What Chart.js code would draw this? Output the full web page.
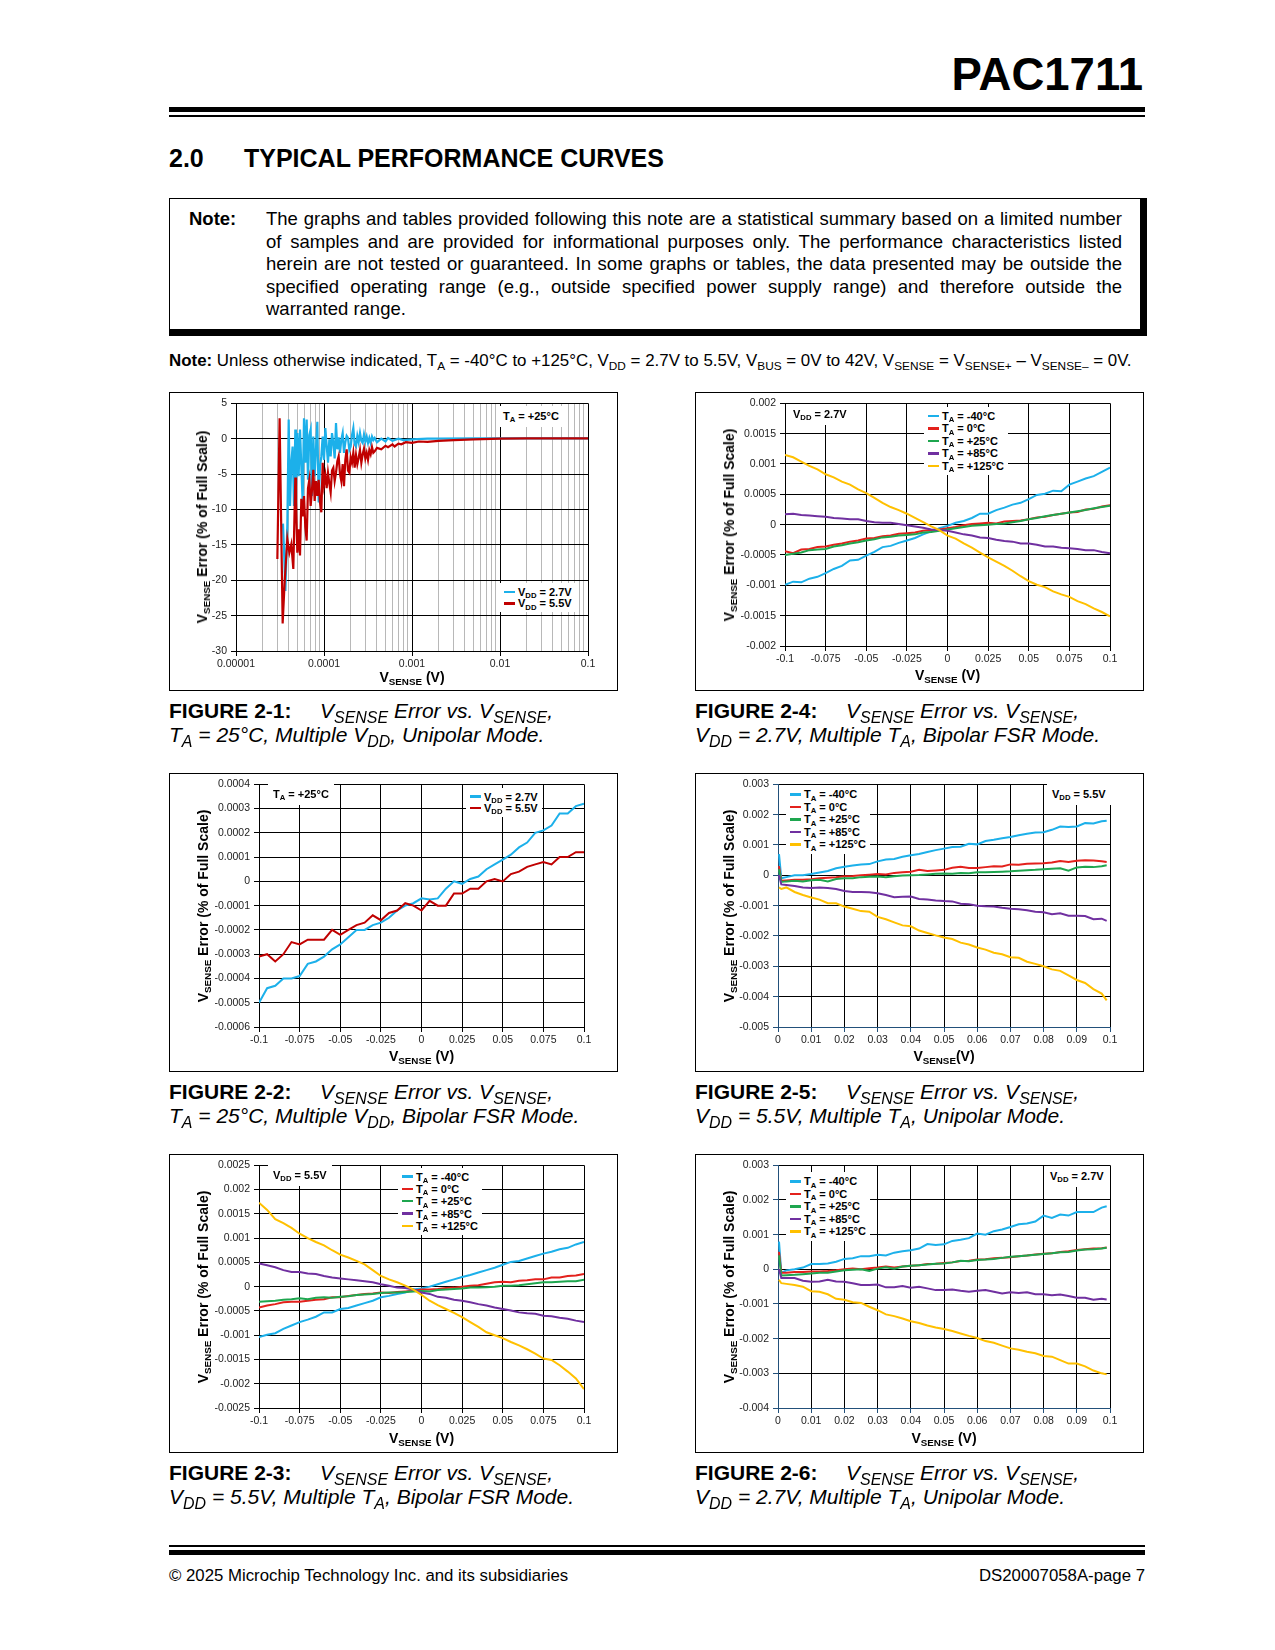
<!DOCTYPE html>
<html>
<head>
<meta charset="utf-8">
<title>PAC1711 - Typical Performance Curves</title>
<script src="https://cdn.jsdelivr.net/npm/chart.js"></script>
<style>
  body { margin: 0; background: #fff; font-family: "Liberation Sans", Arial, Helvetica, sans-serif; color: #000; }
  #page { position: relative; width: 1275px; height: 1650px; overflow: hidden; background: #fff; }
  .abs { position: absolute; white-space: nowrap; }
  sub { font-size: 70%; vertical-align: baseline; position: relative; top: 0.32em; line-height: 0; }
  .rule { position: absolute; background: #000; }
  .box { position: absolute; width: 449px; height: 299px; border: 1px solid #000; box-sizing: border-box; }
  .box canvas { position: absolute; left: 0; top: 0; }
  .cap { position: absolute; font-size: 21px; line-height: 24px; white-space: nowrap; }
  .cap sub { font-size: 76%; }
  .cap .fig { display: inline-block; width: 151px; font-style: normal; font-weight: bold; }
  .xtitle, .ytitle { position: absolute; font-weight: bold; font-size: 14px; line-height: 16px; white-space: nowrap; }
  .xtitle { transform: translate(-50%, -50%); }
  .ytitle { transform: translate(-50%, -50%) rotate(-90deg); }
  .tag { position: absolute; background: #fff; font-weight: bold; font-size: 11px; line-height: 13px; padding: 4px 5px; white-space: nowrap; }
  .legend { position: absolute; background: #fff; font-weight: bold; font-size: 11px; padding: 3px 4px; white-space: nowrap; }
  .lrow { display: flex; align-items: center; }
  .sw { display: inline-block; width: 11px; height: 2.5px; margin-right: 3px; }
</style>
</head>
<body>
<div id="page">
  <div class="abs" style="left:843px; width:300px; top:52px; font-size:45.5px; line-height:45px; font-weight:bold; text-align:right;">PAC1711</div>
  <div class="rule" style="left:169px; top:107px; width:976px; height:5px;"></div>
  <div class="rule" style="left:169px; top:115px; width:976px; height:2px;"></div>

  <div class="abs" style="left:169px; top:146px; font-size:25px; line-height:24px; font-weight:bold;">2.0</div>
  <div class="abs" style="left:244px; top:146px; font-size:25px; line-height:24px; font-weight:bold;">TYPICAL PERFORMANCE CURVES</div>

  <div class="abs" style="left:169px; top:198px; width:978px; height:138px; border:1px solid #000; border-right-width:7px; border-bottom-width:7px; box-sizing:border-box;"></div>
  <div class="abs" style="left:189px; top:208px; font-size:18.5px; line-height:22.6px; font-weight:bold;">Note:</div>
  <div class="abs" style="left:266px; top:208px; width:856px; font-size:18.5px; line-height:22.6px; text-align:justify; white-space:normal;">The graphs and tables provided following this note are a statistical summary based on a limited number of samples and are provided for informational purposes only. The performance characteristics listed herein are not tested or guaranteed. In some graphs or tables, the data presented may be outside the specified operating range (e.g., outside specified power supply range) and therefore outside the warranted range.</div>

  <div class="abs" style="left:169px; top:351px; font-size:16.9px; line-height:20px;"><b>Note:</b> Unless otherwise indicated, T<sub>A</sub> = -40°C to +125°C, V<sub>DD</sub> = 2.7V to 5.5V, V<sub>BUS</sub> = 0V to 42V, V<sub>SENSE</sub> = V<sub>SENSE+</sub> – V<sub>SENSE–</sub> = 0V.</div>

  <div class="box" id="box21" style="left:169px; top:392px;"><canvas id="c21" width="447" height="297"></canvas></div>
  <div class="box" id="box24" style="left:695px; top:392px;"><canvas id="c24" width="447" height="297"></canvas></div>
  <div class="box" id="box22" style="left:169px; top:773px;"><canvas id="c22" width="447" height="297"></canvas></div>
  <div class="box" id="box25" style="left:695px; top:773px;"><canvas id="c25" width="447" height="297"></canvas></div>
  <div class="box" id="box23" style="left:169px; top:1154px;"><canvas id="c23" width="447" height="297"></canvas></div>
  <div class="box" id="box26" style="left:695px; top:1154px;"><canvas id="c26" width="447" height="297"></canvas></div>

  <div class="cap" style="left:169px; top:699px;"><div><span class="fig">FIGURE 2-1:</span><i>V<sub>SENSE</sub> Error vs. V<sub>SENSE</sub>,</i></div><div><i>T<sub>A</sub> = 25°C, Multiple V<sub>DD</sub>, Unipolar Mode.</i></div></div>
  <div class="cap" style="left:695px; top:699px;"><div><span class="fig">FIGURE 2-4:</span><i>V<sub>SENSE</sub> Error vs. V<sub>SENSE</sub>,</i></div><div><i>V<sub>DD</sub> = 2.7V, Multiple T<sub>A</sub>, Bipolar FSR Mode.</i></div></div>
  <div class="cap" style="left:169px; top:1080px;"><div><span class="fig">FIGURE 2-2:</span><i>V<sub>SENSE</sub> Error vs. V<sub>SENSE</sub>,</i></div><div><i>T<sub>A</sub> = 25°C, Multiple V<sub>DD</sub>, Bipolar FSR Mode.</i></div></div>
  <div class="cap" style="left:695px; top:1080px;"><div><span class="fig">FIGURE 2-5:</span><i>V<sub>SENSE</sub> Error vs. V<sub>SENSE</sub>,</i></div><div><i>V<sub>DD</sub> = 5.5V, Multiple T<sub>A</sub>, Unipolar Mode.</i></div></div>
  <div class="cap" style="left:169px; top:1461px;"><div><span class="fig">FIGURE 2-3:</span><i>V<sub>SENSE</sub> Error vs. V<sub>SENSE</sub>,</i></div><div><i>V<sub>DD</sub> = 5.5V, Multiple T<sub>A</sub>, Bipolar FSR Mode.</i></div></div>
  <div class="cap" style="left:695px; top:1461px;"><div><span class="fig">FIGURE 2-6:</span><i>V<sub>SENSE</sub> Error vs. V<sub>SENSE</sub>,</i></div><div><i>V<sub>DD</sub> = 2.7V, Multiple T<sub>A</sub>, Unipolar Mode.</i></div></div>

  <div class="rule" style="left:169px; top:1545px; width:976px; height:2px;"></div>
  <div class="rule" style="left:169px; top:1550px; width:976px; height:5px;"></div>
  <div class="abs" style="left:169px; top:1566px; font-size:16.8px; line-height:20px;">© 2025 Microchip Technology Inc. and its subsidiaries</div>
  <div class="abs" style="left:845px; width:300px; top:1566px; font-size:16.8px; line-height:20px; text-align:right;">DS20007058A-page 7</div>
</div>

<script>
// ---------- data ----------
// x (V) of the bipolar and unipolar sweeps
var bipolarX = [-0.1, -0.095, -0.09, -0.085, -0.08, -0.075, -0.07, -0.065, -0.06, -0.055, -0.05, -0.045, -0.04, -0.035, -0.03, -0.025, -0.02, -0.015, -0.01, -0.005, 0,
  0.005, 0.01, 0.015, 0.02, 0.025, 0.03, 0.035, 0.04, 0.045, 0.05, 0.055, 0.06, 0.065, 0.07, 0.075, 0.08, 0.085, 0.09, 0.095, 0.1];
var unipolarX = [0.0003, 0.001, 0.0025, 0.005, 0.0075, 0.01, 0.0125, 0.015, 0.0175, 0.02, 0.0225, 0.025, 0.0275, 0.03, 0.0325, 0.035, 0.0375, 0.04, 0.0425, 0.045, 0.0475,
  0.05, 0.0525, 0.055, 0.0575, 0.06, 0.0625, 0.065, 0.0675, 0.07, 0.0725, 0.075, 0.0775, 0.08, 0.0825, 0.085, 0.0875, 0.09, 0.0925, 0.095, 0.0975, 0.099];

// tick labels
var bipolarXTicks = [-0.1, -0.075, -0.05, -0.025, 0, 0.025, 0.05, 0.075, 0.1];
var unipolarXTicks = [0, 0.01, 0.02, 0.03, 0.04, 0.05, 0.06, 0.07, 0.08, 0.09, 0.1];
var fig21Decades = [0.00001, 0.0001, 0.001, 0.01, 0.1];
var fig21YTicks = [-30, -25, -20, -15, -10, -5, 0, 5];
var fig22YTicks = [-0.0006, -0.0005, -0.0004, -0.0003, -0.0002, -0.0001, 0, 0.0001, 0.0002, 0.0003, 0.0004];
var fig23YTicks = [-0.0025, -0.002, -0.0015, -0.001, -0.0005, 0, 0.0005, 0.001, 0.0015, 0.002, 0.0025];
var fig24YTicks = [-0.002, -0.0015, -0.001, -0.0005, 0, 0.0005, 0.001, 0.0015, 0.002];
var fig25YTicks = [-0.005, -0.004, -0.003, -0.002, -0.001, 0, 0.001, 0.002, 0.003];
var fig26YTicks = [-0.004, -0.003, -0.002, -0.001, 0, 0.001, 0.002, 0.003];

// series names and colours
var vddLabels = ['2.7V', '5.5V'];
var vddColors = ['#1cb0ea', '#c00000'];
var tempLabels = ['-40°C', '0°C', '+25°C', '+85°C', '+125°C'];
var tempColors = ['#1cb0ea', '#e3211c', '#1ea64f', '#7030a0', '#ffc000'];

// Figure 2-1 (log x, % of full scale)
var fig21X_2V7 = [3.42e-5, 3.51e-5, 3.64e-5, 3.83e-5, 3.97e-5, 4.11e-5, 4.25e-5, 4.40e-5, 4.56e-5, 4.72e-5,
  4.806e-5, 4.977e-5, 5.153e-5, 5.337e-5, 5.526e-5, 5.722e-5, 5.925e-5, 6.136e-5, 6.353e-5, 6.579e-5,
  6.813e-5, 7.055e-5, 7.305e-5, 7.564e-5, 7.833e-5, 8.111e-5, 8.399e-5, 8.697e-5, 9.006e-5, 9.326e-5,
  9.657e-5, 1.0e-4, 1.0355e-4, 1.0723e-4, 1.1103e-4, 1.1498e-4, 1.1906e-4, 1.2328e-4, 1.2766e-4, 1.3219e-4,
  1.3689e-4, 1.4175e-4, 1.4678e-4, 1.5199e-4, 1.5738e-4, 1.6297e-4, 1.6876e-4, 1.7475e-4, 1.8095e-4, 1.8738e-4,
  1.9403e-4, 2.0092e-4, 2.0805e-4, 2.1544e-4, 2.2309e-4, 2.3101e-4, 2.3921e-4, 2.4770e-4, 2.5649e-4, 2.6560e-4,
  2.7503e-4, 2.8480e-4, 2.9491e-4, 3.0538e-4, 3.1623e-4, 3.2745e-4, 3.3908e-4, 3.5112e-4, 3.6358e-4, 3.7649e-4,
  4.0e-4, 4.48e-4, 5.0e-4, 5.34e-4, 6.0e-4, 7.0e-4, 8.0e-4, 1e-3, 1.5e-3, 2e-3, 5e-3, 0.01, 0.1];
var fig21Y_2V7 = [-12.0, -15.6, -21.5, -12.3, 2.7, -9.5, -3.4, -1.1, -9.5, 1.3,
  -6.7, 0.8, -5.3, 1.3, -4.0, -9.0, 2.9, -3.4, 2.7, -5.8,
  0.5, 1.3, -8.1, 0.3, -5.3, -1.5, 2.4, -9.0, -3.9, -2.5,
  0.3, -3.0, 1.5, -1.0, -3.4, -0.1, -2.5, 0.8, -0.6, -2.8,
  2.2, -1.5, 0.2, -2.0, -0.1, 0.8, -2.0, -0.5, 0.4, 0.1,
  -1.6, -1.1, 0.5, 1.5, -0.8, -1.1, 0.4, -0.5, 0.8, -0.3,
  -0.6, 0.6, -0.4, 0.3, -0.6, 0.1, -0.6, 0.3, -0.2, 0.1,
  -0.5, 0.0, -0.4, 0.1, -0.3, 0.0, -0.2, -0.1, 0.0, 0.0, 0.05, 0.05, 0.05];
var fig21X_5V5 = [2.95e-5, 3.13e-5, 3.39e-5, 3.57e-5, 3.83e-5, 4.04e-5, 4.25e-5, 4.48e-5, 4.72e-5,
  4.806e-5, 4.977e-5, 5.153e-5, 5.337e-5, 5.526e-5, 5.722e-5, 5.925e-5, 6.136e-5, 6.353e-5, 6.579e-5,
  6.813e-5, 7.055e-5, 7.305e-5, 7.564e-5, 7.833e-5, 8.111e-5, 8.399e-5, 8.697e-5, 9.006e-5, 9.326e-5,
  9.657e-5, 1.0e-4, 1.0355e-4, 1.0723e-4, 1.1103e-4, 1.1498e-4, 1.1906e-4, 1.2328e-4, 1.2766e-4, 1.3219e-4,
  1.3689e-4, 1.4175e-4, 1.4678e-4, 1.5199e-4, 1.5738e-4, 1.6297e-4, 1.6876e-4, 1.7475e-4, 1.8095e-4, 1.8738e-4,
  1.9403e-4, 2.0092e-4, 2.0805e-4, 2.1544e-4, 2.2309e-4, 2.3101e-4, 2.3921e-4, 2.4770e-4, 2.5649e-4, 2.6560e-4,
  2.7503e-4, 2.8480e-4, 2.9491e-4, 3.0538e-4, 3.1623e-4, 3.2745e-4, 3.3908e-4, 3.5112e-4, 3.6358e-4, 3.7649e-4,
  4.0e-4, 4.48e-4, 5.0e-4, 5.34e-4, 6.0e-4, 6.35e-4, 7.0e-4, 7.56e-4, 8.5e-4, 1e-3, 1.2e-3, 1.5e-3, 2e-3, 3e-3, 5e-3, 0.01, 0.02, 0.05, 0.1];
var fig21Y_5V5 = [-17.0, 2.9, -26.1, -20.3, -14.2, -16.1, -14.9, -18.4, -5.5,
  -9.0, -16.1, -12.8, -16.5, -8.5, -11.0, -8.1, -12.5, -14.4, -7.0,
  -5.8, -9.5, -7.2, -4.4, -8.8, -6.0, -8.1, -5.8, -9.0, -10.4,
  -3.4, -6.5, -5.2, -7.0, -4.8, -6.3, -7.6, -4.5, -4.1, -6.0,
  -4.8, -3.2, -2.5, -5.0, -6.0, -3.6, -6.7, -3.0, -1.5, -4.5,
  -4.8, -2.6, -3.4, -2.0, -4.1, -2.3, -3.6, -2.7, -1.6, -3.4,
  -2.2, -1.4, -2.8, -2.0, -3.0, -1.6, -2.2, -1.2, -2.0, -1.8,
  -1.3, -1.5, -1.0, -1.2, -0.8, -1.1, -0.7, -0.8, -0.5, -0.6, -0.4, -0.45, -0.3, -0.2, -0.1, 0.0, 0.05, 0.05, 0.05];

// Figure 2-2 (TA = +25°C, bipolar)
var fig22_2V7 = [-0.0005, -0.00044, -0.00043, -0.0004, -0.0004, -0.00039, -0.00034, -0.00033, -0.00031, -0.00028, -0.00026, -0.00023, -0.0002, -0.0002, -0.00018, -0.00017,
  -0.00015, -0.00012, -0.0001, -0.00009, -0.00007, -0.000075, -0.00007, -0.00003, 0, -0.00001, 0.00001, 0.00002, 0.00005, 0.00007, 0.00009, 0.00011, 0.00014, 0.00016,
  0.0002, 0.00021, 0.00023, 0.00028, 0.00028, 0.00031, 0.00032];
var fig22_5V5 = [-0.00031, -0.0003, -0.00033, -0.0003, -0.00025, -0.00026, -0.00024, -0.00024, -0.00024, -0.0002, -0.00022, -0.0002, -0.00018, -0.00017, -0.00014, -0.00016,
  -0.00013, -0.00012, -0.00009, -0.0001, -0.00012, -0.00008, -0.0001, -0.0001, -0.00005, -0.00005, -0.00003, -0.00003, 0, 0.00001, 0, 0.00003, 0.00004, 0.00006, 0.00007,
  0.00008, 0.00007, 0.0001, 0.0001, 0.00012, 0.00012];

// Figure 2-4 (VDD = 2.7V, bipolar)
var fig24_m40 = [-0.00099, -0.00094, -0.00095, -0.00089, -0.00086, -0.0008, -0.00073, -0.00068, -0.00059, -0.00058, -0.00051, -0.00045, -0.00037, -0.00035, -0.0003, -0.00026,
  -0.00022, -0.00016, -0.00011, -0.00006, -0.00002, 0.00003, 0.00006, 0.00011, 0.00018, 0.00018, 0.00024, 0.00028, 0.00033, 0.00036, 0.00042, 0.00049, 0.00051, 0.00056,
  0.00055, 0.00066, 0.00071, 0.00076, 0.0008, 0.00087, 0.00094];
var fig24_0 = [-0.00044, -0.00047, -0.00041, -0.0004, -0.00037, -0.00036, -0.00033, -0.00031, -0.00028, -0.00026, -0.00023, -0.00022, -0.00019, -0.00018, -0.00015, -0.00014,
  -0.00013, -0.0001, -0.00009, -0.00008, -0.00006, -0.00004, -0.00001, 0.00001, 0.00002, 0.00003, 0.00002, 0.00005, 0.00006, 0.00007, 0.00009, 0.00012, 0.00013, 0.00016,
  0.00018, 0.0002, 0.00021, 0.00025, 0.00026, 0.0003, 0.00032];
var fig24_25 = [-0.0005, -0.00048, -0.00046, -0.00042, -0.00041, -0.0004, -0.00036, -0.00034, -0.00031, -0.00029, -0.00026, -0.00024, -0.00021, -0.0002, -0.00018, -0.00017,
  -0.00016, -0.00013, -0.00012, -0.0001, -0.00008, -0.00006, -0.00004, -0.00002, -0.00001, 0, 0.00001, 0.00002, 0.00004, 0.00006, 0.00009, 0.00011, 0.00014, 0.00016,
  0.00018, 0.0002, 0.00022, 0.00024, 0.00027, 0.00029, 0.00031];
var fig24_85 = [0.00017, 0.00018, 0.00016, 0.00015, 0.00014, 0.00013, 0.00011, 0.0001, 0.00009, 0.00009, 0.00006, 0.00004, 0.00003, 0.00003, 0.00001, -0.00001, -0.00003,
  -0.00005, -0.00008, -0.00009, -0.0001, -0.00013, -0.00016, -0.00018, -0.00021, -0.00022, -0.00025, -0.00027, -0.00028, -0.00031, -0.00031, -0.00033, -0.00036, -0.00036,
  -0.00038, -0.00039, -0.0004, -0.00042, -0.00042, -0.00045, -0.00047];
var fig24_125 = [0.00115, 0.00111, 0.00104, 0.00097, 0.00091, 0.00083, 0.00078, 0.00071, 0.00066, 0.00058, 0.00052, 0.00044, 0.00036, 0.00029, 0.00024, 0.00018, 0.00011,
  0.00004, -0.00003, -0.00009, -0.00018, -0.00023, -0.00031, -0.00038, -0.00046, -0.00054, -0.00061, -0.00068, -0.00076, -0.00085, -0.00093, -0.00099, -0.00103, -0.0011,
  -0.00115, -0.00119, -0.00126, -0.00131, -0.00138, -0.00144, -0.00151];

// Figure 2-3 (VDD = 5.5V, bipolar)
var fig23_m40 = [-0.00104, -0.00099, -0.00096, -0.00087, -0.0008, -0.00073, -0.00068, -0.00062, -0.00053, -0.00053, -0.00046, -0.00044, -0.00039, -0.00034, -0.00029, -0.00022,
  -0.00019, -0.00015, -0.00012, -0.00006, -0.00004, 0, 0.00005, 0.0001, 0.00015, 0.0002, 0.00024, 0.00029, 0.00034, 0.00039, 0.00045, 0.00051, 0.00053, 0.00058, 0.00063,
  0.00068, 0.00072, 0.00077, 0.0008, 0.00087, 0.00092];
var fig23_0 = [-0.00043, -0.00039, -0.00036, -0.00032, -0.00031, -0.00031, -0.00029, -0.00027, -0.00026, -0.00022, -0.00022, -0.00019, -0.00017, -0.00015, -0.00014, -0.00012,
  -0.00013, -0.00011, -0.0001, -0.00009, -0.00006, -0.00006, -0.00005, -0.00003, -0.00002, 0, 0.00002, 0.00003, 0.00006, 0.00009, 0.0001, 0.00009, 0.00012, 0.00013, 0.00015,
  0.00015, 0.00019, 0.00019, 0.00022, 0.00023, 0.00026];
var fig23_25 = [-0.00031, -0.0003, -0.00029, -0.00027, -0.00026, -0.00024, -0.00026, -0.00023, -0.00022, -0.00023, -0.00021, -0.0002, -0.00017, -0.00016, -0.00015, -0.00013,
  -0.00012, -0.00012, -0.00011, -0.0001, -0.00009, -0.0001, -0.00007, -0.00006, -0.00005, -0.00004, -0.00002, -0.00002, -0.00001, 0, 0.00002, 0.00002, 0.00003, 0.00005,
  0.00007, 0.00009, 0.00009, 0.0001, 0.00011, 0.00011, 0.00014];
var fig23_85 = [0.00048, 0.00044, 0.0004, 0.00034, 0.0003, 0.0003, 0.00027, 0.00026, 0.00022, 0.00019, 0.00017, 0.00015, 0.00013, 0.00011, 0.00009, 0.00005, 0.00002, -0.00002,
  -0.00003, -0.00006, -0.00012, -0.00015, -0.00021, -0.00023, -0.00027, -0.00029, -0.00032, -0.00036, -0.00039, -0.00043, -0.00046, -0.00049, -0.00053, -0.00055, -0.00056,
  -0.0006, -0.00061, -0.00064, -0.00066, -0.0007, -0.00073];
var fig23_125 = [0.00173, 0.00158, 0.00139, 0.00131, 0.00121, 0.00109, 0.001, 0.00092, 0.00085, 0.00075, 0.00066, 0.0006, 0.00053, 0.00046, 0.00034, 0.00022, 0.00015, 0.00009,
  0.00002, -0.00006, -0.00017, -0.00029, -0.00038, -0.00046, -0.00054, -0.00063, -0.00073, -0.00083, -0.00094, -0.001, -0.00106, -0.00114, -0.00121, -0.00129, -0.00138,
  -0.00148, -0.00151, -0.00162, -0.00175, -0.00189, -0.00211];

// Figure 2-5 (VDD = 5.5V, unipolar)
var fig25_m40 = [0.0007, -0.0001, -0.00006, 0, 0, 0.00004, 0.00009, 0.00014, 0.00023, 0.00028, 0.00032, 0.00036, 0.00037, 0.00046, 0.00052, 0.00054, 0.00061, 0.00066, 0.0007,
  0.00077, 0.00083, 0.00088, 0.00093, 0.00094, 0.00104, 0.00102, 0.00113, 0.00117, 0.00122, 0.00126, 0.00132, 0.00137, 0.00141, 0.00142, 0.0015, 0.00161, 0.00159, 0.00161,
  0.00172, 0.00171, 0.00178, 0.0018];
var fig25_0 = [0.0003, -0.00018, -0.00017, -0.00015, -0.00015, -0.00013, -0.0001, -0.00008, -0.00006, -0.00003, -0.00002, 0, 0.00002, 0.00004, 0.00003, 0.00008, 0.0001,
  0.00012, 0.00018, 0.00014, 0.00016, 0.00018, 0.00025, 0.00028, 0.00024, 0.00024, 0.00027, 0.0003, 0.00029, 0.00036, 0.00035, 0.00038, 0.00039, 0.0004, 0.00042, 0.00047,
  0.00044, 0.00048, 0.0005, 0.00049, 0.00046, 0.00044];
var fig25_25 = [0.0002, -0.00022, -0.0002, -0.00018, -0.0002, -0.00016, -0.00015, -0.0002, -0.00012, -0.0001, -0.0001, -0.00006, -0.00005, -0.00004, -0.00006, -0.00003,
  -0.00001, 0, 0.00001, 0.00003, 0.00005, 0.00006, 0.00005, 0.00008, 0.00007, 0.0001, 0.0001, 0.00011, 0.00012, 0.00013, 0.00015, 0.00017, 0.00018, 0.0002, 0.00022, 0.00023,
  0.00015, 0.00026, 0.00028, 0.00027, 0.0003, 0.00033];
var fig25_85 = [0, -0.0003, -0.00032, -0.00035, -0.0004, -0.00042, -0.0004, -0.00042, -0.00045, -0.00052, -0.00055, -0.00055, -0.00056, -0.00059, -0.00065, -0.00072, -0.00071,
  -0.0007, -0.00078, -0.0008, -0.00083, -0.00085, -0.00086, -0.00094, -0.00095, -0.001, -0.00102, -0.00103, -0.00107, -0.0011, -0.00112, -0.00115, -0.0012, -0.00122,
  -0.00128, -0.00125, -0.00133, -0.00133, -0.00134, -0.00145, -0.00143, -0.0015];
var fig25_125 = [-0.0004, -0.00045, -0.0004, -0.00055, -0.00065, -0.00073, -0.0008, -0.00092, -0.00092, -0.00103, -0.0011, -0.00118, -0.0012, -0.00137, -0.00145, -0.00155,
  -0.00165, -0.00168, -0.00182, -0.0019, -0.00198, -0.00205, -0.0021, -0.00222, -0.00228, -0.00238, -0.00245, -0.00255, -0.0026, -0.0027, -0.00272, -0.00285, -0.00292,
  -0.003, -0.0031, -0.00315, -0.0033, -0.00345, -0.00355, -0.00375, -0.0039, -0.00412];

// Figure 2-6 (VDD = 2.7V, unipolar)
var fig26_m40 = [0.0008, -0.0001, -0.00003, 0, 0.00005, 0.00015, 0.00015, 0.00017, 0.00022, 0.0003, 0.00032, 0.00038, 0.00038, 0.00042, 0.0004, 0.00048, 0.00052, 0.00055,
  0.0006, 0.00073, 0.0007, 0.00072, 0.00082, 0.00085, 0.0009, 0.00103, 0.001, 0.0011, 0.00115, 0.00122, 0.0013, 0.00132, 0.00138, 0.00155, 0.00148, 0.00158, 0.00155,
  0.00165, 0.00165, 0.00165, 0.00178, 0.00182];
var fig26_0 = [0.0005, -0.0001, -0.0001, -0.00008, -0.00008, -0.00006, -0.00006, -0.00005, -0.00003, 0, 0.00002, 0, 0.00003, 0.00005, 0.00008, 0.00005, 0.00008, 0.0001,
  0.00012, 0.00015, 0.00016, 0.00018, 0.0002, 0.00024, 0.00025, 0.00028, 0.00029, 0.00032, 0.00033, 0.00035, 0.00038, 0.0004, 0.00043, 0.00045, 0.00046, 0.0005, 0.00052,
  0.00056, 0.00058, 0.0006, 0.00061, 0.00063];
var fig26_25 = [0.0004, -0.00018, -0.00017, -0.00016, -0.00014, -0.00012, -0.0001, -0.0001, -0.00006, -0.00003, -0.00001, 0, -0.00005, 0.00002, 0.00006, 0.00002, 0.00008,
  0.0001, 0.00012, 0.00014, 0.00016, 0.00017, 0.0002, 0.00025, 0.00023, 0.00027, 0.00028, 0.0003, 0.00033, 0.00036, 0.00038, 0.0004, 0.00042, 0.00044, 0.00046, 0.00049,
  0.0005, 0.00054, 0.00057, 0.00058, 0.0006, 0.00062];
var fig26_85 = [0, -0.00025, -0.00025, -0.00025, -0.00033, -0.00036, -0.00035, -0.0003, -0.00035, -0.00036, -0.0004, -0.00045, -0.00045, -0.00044, -0.00052, -0.00052,
  -0.00048, -0.00053, -0.0005, -0.00055, -0.0006, -0.0006, -0.00058, -0.00062, -0.00065, -0.00062, -0.0006, -0.00065, -0.0007, -0.00066, -0.00068, -0.00066, -0.00072,
  -0.00072, -0.00075, -0.00073, -0.00077, -0.00082, -0.00082, -0.00088, -0.00085, -0.00087];
var fig26_125 = [-0.0003, -0.0004, -0.00042, -0.00045, -0.0005, -0.00063, -0.00065, -0.00072, -0.00085, -0.00088, -0.00095, -0.00097, -0.00108, -0.00118, -0.0013, -0.00135,
  -0.00142, -0.0015, -0.00155, -0.00162, -0.00168, -0.00172, -0.00178, -0.00185, -0.00192, -0.00198, -0.00207, -0.00212, -0.0022, -0.00228, -0.00232, -0.00238, -0.00242,
  -0.0025, -0.00252, -0.00262, -0.00272, -0.00272, -0.0028, -0.00292, -0.003, -0.00303];

// ---------- helpers ----------
Chart.defaults.font.family = '"Liberation Sans", Arial, Helvetica, sans-serif';
Chart.defaults.font.size = 10.5;
Chart.defaults.color = '#222';

var Y_TITLE = 'V<sub>SENSE</sub> Error (% of Full Scale)';

function toPoints(xs, ys) {
  return xs.map(function (x, i) { return { x: x, y: ys[i] }; });
}

function numberLabel(v) {
  return String(parseFloat(Number(v).toPrecision(6)));
}

function isDecade(v) {
  var l = Math.log10(v);
  return Math.abs(l - Math.round(l)) < 1e-6;
}

function setTicks(values) {
  return function (scale) {
    scale.ticks = values.map(function (v) { return { value: v }; });
  };
}

// 1..9 per decade, labels only on the decades
function logTicks(scale) {
  var ticks = [];
  for (var d = 0; d < fig21Decades.length - 1; d++) {
    for (var m = 1; m < 10; m++) {
      ticks.push({ value: parseFloat((fig21Decades[d] * m).toPrecision(6)) });
    }
  }
  ticks.push({ value: fig21Decades[fig21Decades.length - 1] });
  scale.ticks = ticks;
}

function tempSeries(x, ys) {
  return ys.map(function (y, i) {
    return { label: 'T<sub>A</sub> = ' + tempLabels[i], x: x, y: y, color: tempColors[i] };
  });
}

function addLegend(box, series, pos) {
  var div = document.createElement('div');
  div.className = 'legend';
  div.style.left = pos.left + 'px';
  div.style.top = pos.top + 'px';
  series.forEach(function (s) {
    var row = document.createElement('div');
    row.className = 'lrow';
    row.style.height = pos.step + 'px';
    row.innerHTML = '<span class="sw" style="background:' + s.color + '"></span><span>' + s.label + '</span>';
    div.appendChild(row);
  });
  box.appendChild(div);
}

function addTag(box, html, left, top) {
  var div = document.createElement('div');
  div.className = 'tag';
  div.style.left = left + 'px';
  div.style.top = top + 'px';
  div.innerHTML = html;
  box.appendChild(div);
}

function buildChart(spec) {
  var box = document.getElementById(spec.box);
  var canvas = box.querySelector('canvas');
  var axisColor = spec.axisColor || '#000';
  var n = spec.series.length;

  var datasets = spec.series.map(function (s, i) {
    return {
      label: s.label,
      data: toPoints(s.x, s.y),
      borderColor: s.color,
      backgroundColor: s.color,
      borderWidth: spec.lineWidth || 2,
      pointRadius: 0,
      tension: 0,
      fill: false,
      order: n - i
    };
  });

  var xScale;
  if (spec.log) {
    xScale = {
      type: 'logarithmic', min: fig21Decades[0], max: fig21Decades[fig21Decades.length - 1],
      afterBuildTicks: logTicks,
      ticks: { autoSkip: false, maxRotation: 0, padding: 2, callback: function (v) { return isDecade(v) ? numberLabel(v) : ''; } },
      grid: {
        color: function (ctx) { return ctx.tick && isDecade(ctx.tick.value) ? '#000' : '#b8b8b8'; },
        tickColor: function (ctx) { return ctx.tick && isDecade(ctx.tick.value) ? '#000' : 'rgba(0,0,0,0)'; },
        tickLength: 5
      },
      border: { color: axisColor }
    };
  } else {
    xScale = {
      type: 'linear', min: spec.xTicks[0], max: spec.xTicks[spec.xTicks.length - 1],
      afterBuildTicks: setTicks(spec.xTicks),
      ticks: { autoSkip: false, maxRotation: 0, padding: 2, callback: numberLabel },
      grid: { color: '#000', tickColor: axisColor, tickLength: 5 },
      border: { color: axisColor }
    };
  }
  xScale.afterFit = function (scale) { scale.height = spec.xHeight; };

  var yScale = {
    type: 'linear', min: spec.yTicks[0], max: spec.yTicks[spec.yTicks.length - 1],
    afterBuildTicks: setTicks(spec.yTicks),
    afterFit: function (scale) { scale.width = spec.yWidth; },
    ticks: { padding: 4, callback: numberLabel },
    grid: { color: '#000', tickColor: axisColor, tickLength: 5 },
    border: { color: axisColor }
  };

  var chart = new Chart(canvas, {
    type: 'line',
    data: { datasets: datasets },
    options: {
      responsive: false,
      animation: false,
      events: [],
      layout: { padding: { top: spec.top, right: spec.right, left: 0, bottom: 0 } },
      plugins: { legend: { display: false }, tooltip: { enabled: false } },
      scales: { x: xScale, y: yScale }
    }
  });

  // axis titles
  var a = chart.chartArea;
  var xt = document.createElement('div');
  xt.className = 'xtitle';
  xt.innerHTML = spec.xTitle || 'V<sub>SENSE</sub> (V)';
  xt.style.left = ((a.left + a.right) / 2) + 'px';
  xt.style.top = spec.xTitleY + 'px';
  box.appendChild(xt);

  var yt = document.createElement('div');
  yt.className = 'ytitle';
  yt.innerHTML = Y_TITLE;
  yt.style.left = spec.yTitleX + 'px';
  yt.style.top = ((a.top + a.bottom) / 2) + 'px';
  box.appendChild(yt);

  addLegend(box, spec.series, spec.legend);
  addTag(box, spec.tag.html, spec.tag.left, spec.tag.top);
  return chart;
}

// ---------- charts ----------
var UNI_AXIS = '#22507a';

buildChart({
  box: 'box21', log: true, yTicks: fig21YTicks, lineWidth: 2.2,
  yWidth: 66, xHeight: 39, top: 8, right: 29, xTitleY: 284, yTitleX: 32,
  series: [
    { label: 'V<sub>DD</sub> = ' + vddLabels[0], x: fig21X_2V7, y: fig21Y_2V7, color: vddColors[0] },
    { label: 'V<sub>DD</sub> = ' + vddLabels[1], x: fig21X_5V5, y: fig21Y_5V5, color: vddColors[1] }
  ],
  legend: { left: 330, top: 190, step: 11.6 },
  tag: { html: 'T<sub>A</sub> = +25°C', left: 328, top: 13 }
});

buildChart({
  box: 'box24', xTicks: bipolarXTicks, yTicks: fig24YTicks,
  yWidth: 89, xHeight: 44, top: 7, right: 33, xTitleY: 282, yTitleX: 33,
  series: tempSeries(bipolarX, [fig24_m40, fig24_0, fig24_25, fig24_85, fig24_125]),
  legend: { left: 228, top: 13.5, step: 12.5 },
  tag: { html: 'V<sub>DD</sub> = 2.7V', left: 92, top: 11 }
});

buildChart({
  box: 'box22', xTicks: bipolarXTicks, yTicks: fig22YTicks,
  yWidth: 89, xHeight: 44, top: 8, right: 33, xTitleY: 282, yTitleX: 33,
  series: [
    { label: 'V<sub>DD</sub> = ' + vddLabels[0], x: bipolarX, y: fig22_2V7, color: vddColors[0] },
    { label: 'V<sub>DD</sub> = ' + vddLabels[1], x: bipolarX, y: fig22_5V5, color: vddColors[1] }
  ],
  legend: { left: 296, top: 14, step: 11.3 },
  tag: { html: 'T<sub>A</sub> = +25°C', left: 98, top: 10 }
});

buildChart({
  box: 'box25', xTicks: unipolarXTicks, yTicks: fig25YTicks, axisColor: UNI_AXIS,
  yWidth: 82, xHeight: 44, top: 8, right: 33, xTitleY: 282, yTitleX: 33,
  xTitle: 'V<sub>SENSE</sub>(V)',
  series: tempSeries(unipolarX, [fig25_m40, fig25_0, fig25_25, fig25_85, fig25_125]),
  legend: { left: 90, top: 11, step: 12.5 },
  tag: { html: 'V<sub>DD</sub> = 5.5V', left: 351, top: 10 }
});

buildChart({
  box: 'box23', xTicks: bipolarXTicks, yTicks: fig23YTicks,
  yWidth: 89, xHeight: 44, top: 8, right: 33, xTitleY: 283, yTitleX: 33,
  series: tempSeries(bipolarX, [fig23_m40, fig23_0, fig23_25, fig23_85, fig23_125]),
  legend: { left: 228, top: 12.5, step: 12.3 },
  tag: { html: 'V<sub>DD</sub> = 5.5V', left: 98, top: 10 }
});

buildChart({
  box: 'box26', xTicks: unipolarXTicks, yTicks: fig26YTicks, axisColor: UNI_AXIS,
  yWidth: 82, xHeight: 44, top: 8, right: 33, xTitleY: 283, yTitleX: 33,
  series: tempSeries(unipolarX, [fig26_m40, fig26_0, fig26_25, fig26_85, fig26_125]),
  legend: { left: 90, top: 17, step: 12.5 },
  tag: { html: 'V<sub>DD</sub> = 2.7V', left: 349, top: 10.5 }
});
</script>
</body>
</html>
